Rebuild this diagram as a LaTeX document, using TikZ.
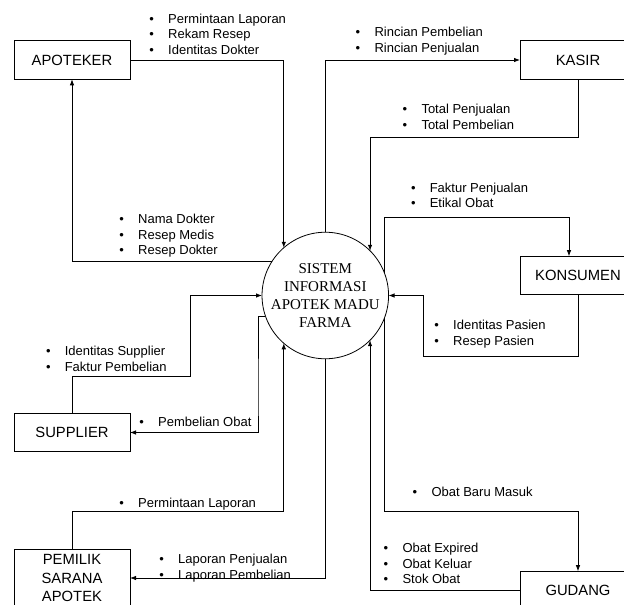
\documentclass[tikz,border=0pt]{standalone}
\usepackage{fontspec}
\setmainfont{Liberation Sans}
\newfontfamily\serifface{Liberation Serif}
\usetikzlibrary{arrows.meta}
\newcommand{\bitem}[1]{\makebox[18.8pt][l]{•}#1}
\tikzset{
  entity/.style={draw, line width=0.8pt, minimum width=116pt, minimum height=38.6pt, inner sep=0pt, outer sep=0pt, align=center, font=\fontsize{14.8}{18.5}\selectfont},
  proc/.style={draw, circle, line width=0.8pt, minimum size=117.4pt, inner sep=0pt, outer sep=0pt, align=center, font=\serifface\fontsize{15}{18.3}\selectfont},
  lbl/.style={anchor=base west, inner sep=0pt, outer sep=0pt, font=\fontsize{13}{15.4}\selectfont},
  flow/.style={draw, line width=0.8pt, -{Latex[length=6pt,width=4.5pt]}}
}
\begin{document}
\begin{tikzpicture}[x=1pt,y=-1pt]
\useasboundingbox (0,0) rectangle (624,605);
% entities
\node[entity] (apo) at (72,60) {APOTEKER};
\node[entity] (kas) at (578,60) {KASIR};
\node[entity] (kon) at (578,275.5) {KONSUMEN};
\node[entity] (sup) at (72,432.5) {SUPPLIER};
\node[entity, minimum height=58pt] (pem) at (72,578) {PEMILIK\\SARANA\\APOTEK};
\node[entity] (gud) at (578,590.5) {GUDANG};
% process
\node[proc] (sis) at (325.3,295.5) {SISTEM\\INFORMASI\\APOTEK MADU\\FARMA};
% helper coordinates
\coordinate (c1) at (367,137);
\coordinate (c2) at (569,217);
\coordinate (c3) at (423,356);
\coordinate (c4) at (578,511);
\coordinate (c5) at (287,511);
\coordinate (c6) at (190,376);
\coordinate (c7) at (258,400);
% connectors
\draw[flow] (apo.east) -| (sis.131);
\draw[flow] (sis.147.5) -| (apo.south);
\draw[flow] (sis.north) |- (kas.west);
\draw[flow] (kas.south) |- (sis.45 |- c1) -- (sis.45);
\draw[flow] (sis.21) |- (c2) -- (c2 |- kon.north);
\draw[flow] (kon.south) |- (c3) |- (sis.east);
\draw[flow] (sis.-21) |- (c4) -- (gud.north);
\draw[flow] (gud.west) -| (sis.-45);
\draw[flow] (sis.south) |- (pem.east);
\draw[flow] (pem.north) |- (sis.-131 |- c5) -- (sis.-131);
\draw[flow] (sup.north) |- (c6) |- (sis.west);
\draw[flow] (sis.199) -| (c7) |- (sup.east);
% labels
\node[lbl] (la) at (149.4,23.6) {\begin{tabular}[t]{@{}l@{}}\bitem{Permintaan Laporan}\\\bitem{Rekam Resep}\\\bitem{Identitas Dokter}\end{tabular}};
\node[lbl] (lb) at (119.4,223.6) {\begin{tabular}[t]{@{}l@{}}\bitem{Nama Dokter}\\\bitem{Resep Medis}\\\bitem{Resep Dokter}\end{tabular}};
\node[lbl] (lc) at (355.7,36.9) {\begin{tabular}[t]{@{}l@{}}\bitem{Rincian Pembelian}\\\bitem{Rincian Penjualan}\end{tabular}};
\node[lbl] (ld) at (402.7,113.6) {\begin{tabular}[t]{@{}l@{}}\bitem{Total Penjualan}\\\bitem{Total Pembelian}\end{tabular}};
\node[lbl] (le) at (411,192.3) {\begin{tabular}[t]{@{}l@{}}\bitem{Faktur Penjualan}\\\bitem{Etikal Obat}\end{tabular}};
\node[lbl] (lf) at (434.4,329.6) {\begin{tabular}[t]{@{}l@{}}\bitem{Identitas Pasien}\\\bitem{Resep Pasien}\end{tabular}};
\node[lbl] (lg) at (412.7,496.9) {\begin{tabular}[t]{@{}l@{}}\bitem{Obat Baru Masuk}\end{tabular}};
\node[lbl] (lh) at (383.7,552.9) {\begin{tabular}[t]{@{}l@{}}\bitem{Obat Expired}\\\bitem{Obat Keluar}\\\bitem{Stok Obat}\end{tabular}};
\node[lbl] (li) at (159.4,563.6) {\begin{tabular}[t]{@{}l@{}}\bitem{Laporan Penjualan}\\\bitem{Laporan Pembelian}\end{tabular}};
\node[lbl] (lj) at (119.4,507.3) {\begin{tabular}[t]{@{}l@{}}\bitem{Permintaan Laporan}\end{tabular}};
\node[lbl] (lk) at (46,355.6) {\begin{tabular}[t]{@{}l@{}}\bitem{Identitas Supplier}\\\bitem{Faktur Pembelian}\end{tabular}};
\node[lbl] (ll) at (139.4,426.3) {\begin{tabular}[t]{@{}l@{}}\bitem{Pembelian Obat}\end{tabular}};
\end{tikzpicture}
\end{document}
